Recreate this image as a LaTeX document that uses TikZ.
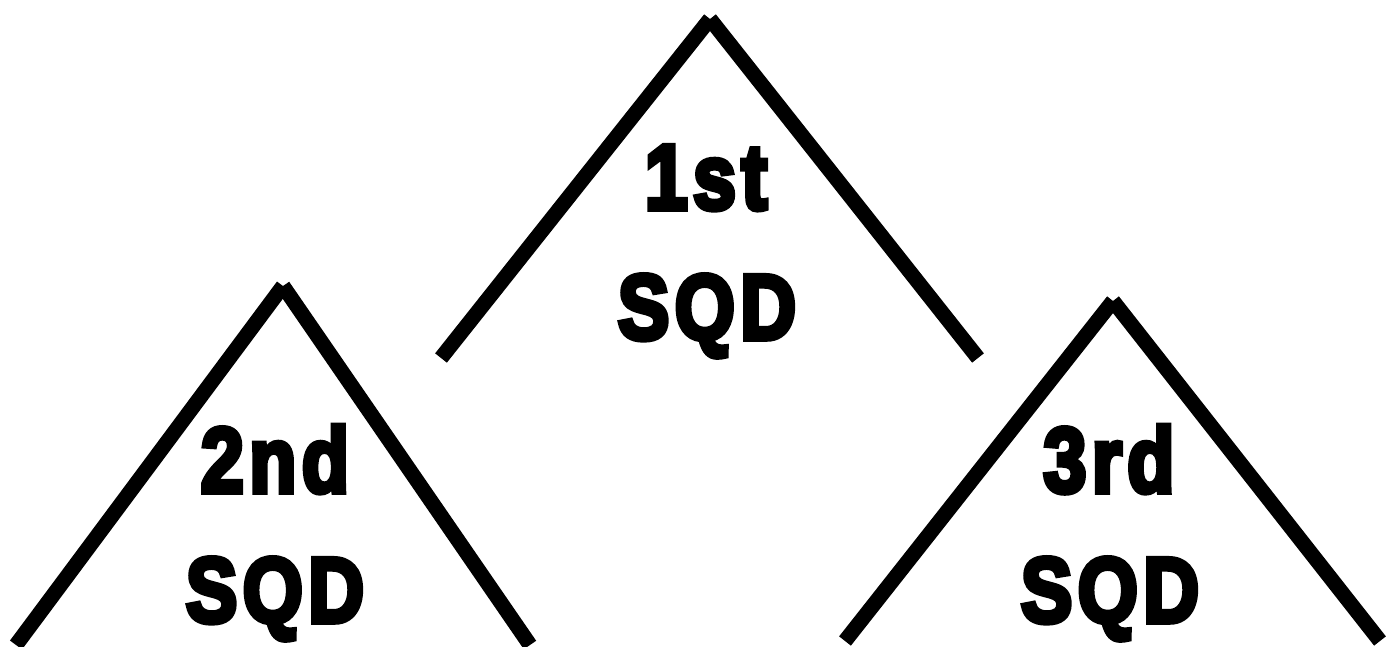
\documentclass[tikz,border=0pt]{standalone}
\usepackage{fontspec}
\newfontfamily\heavyfont[FakeBold=6,LetterSpace=7]{Liberation Sans Bold}
\begin{document}
\begin{tikzpicture}[x=1pt,y=-1pt,
  chevron/.style={line width=15pt,line cap=butt,black},
  lbl/.style={anchor=base,inner sep=0pt,font=\heavyfont\fontsize{92}{92}\selectfont}]
\useasboundingbox (0,0) rectangle (1398,647);
% chevron 1
\coordinate (a1l) at (441,358); \coordinate (a1t) at (710,19); \coordinate (a1r) at (978,358);
\draw[chevron] (a1l) -- (a1t); \draw[chevron] (a1t) -- (a1r);
% chevron 2
\coordinate (a2l) at (16,645); \coordinate (a2t) at (283,286); \coordinate (a2r) at (530,645);
\draw[chevron] (a2l) -- (a2t); \draw[chevron] (a2t) -- (a2r);
% chevron 3
\coordinate (a3l) at (845,641); \coordinate (a3t) at (1113,301); \coordinate (a3r) at (1380,641);
\draw[chevron] (a3l) -- (a3t); \draw[chevron] (a3t) -- (a3r);
% labels
\node[lbl] (t1) at (706,209) {\scalebox{0.84}[1]{1st}};
\node[lbl] (s1) at (707,339) {\scalebox{0.84}[1]{SQD}};
\node[lbl] (t2) at (275,492) {\scalebox{0.84}[1]{2nd}};
\node[lbl] (s2) at (275,622) {\scalebox{0.84}[1]{SQD}};
\node[lbl] (t3) at (1109,492) {\scalebox{0.84}[1]{3rd}};
\node[lbl] (s3) at (1110,622) {\scalebox{0.84}[1]{SQD}};
\end{tikzpicture}
\end{document}
